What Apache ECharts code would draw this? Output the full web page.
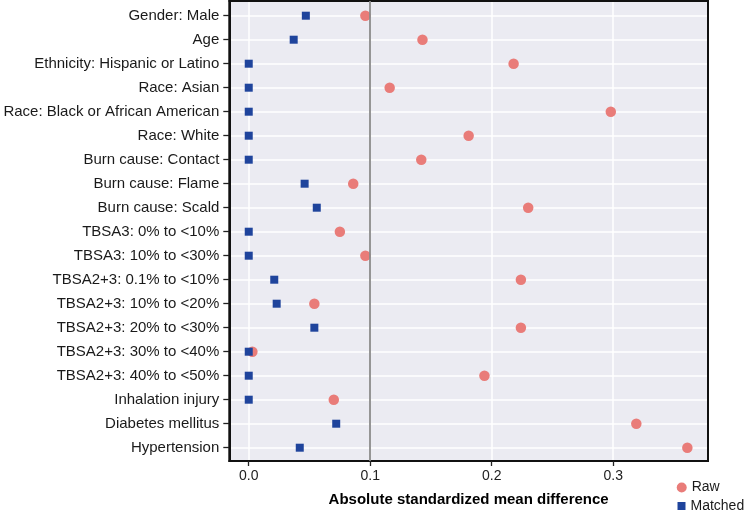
<!DOCTYPE html>
<html>
<head>
<meta charset="utf-8">
<script src="https://cdn.jsdelivr.net/npm/echarts@6/dist/echarts.min.js"></script>
<style>
html,body{margin:0;padding:0;background:#fff;}
#chart{width:750px;height:511px;}
</style>
</head>
<body>
<div id="chart"></div>
<script>
const categories = [
  "Gender: Male",
  "Age",
  "Ethnicity: Hispanic or Latino",
  "Race: Asian",
  "Race: Black or African American",
  "Race: White",
  "Burn cause: Contact",
  "Burn cause: Flame",
  "Burn cause: Scald",
  "TBSA3: 0% to <10%",
  "TBSA3: 10% to <30%",
  "TBSA2+3: 0.1% to <10%",
  "TBSA2+3: 10% to <20%",
  "TBSA2+3: 20% to <30%",
  "TBSA2+3: 30% to <40%",
  "TBSA2+3: 40% to <50%",
  "Inhalation injury",
  "Diabetes mellitus",
  "Hypertension"
];
const rawValues = [0.096, 0.143, 0.218, 0.116, 0.298, 0.181, 0.142, 0.086, 0.230, 0.075, 0.096, 0.224, 0.054, 0.224, 0.003, 0.194, 0.070, 0.319, 0.361];
const matchedValues = [0.047, 0.037, 0, 0, 0, 0, 0, 0.046, 0.056, 0, 0, 0.021, 0.023, 0.054, 0, 0, 0, 0.072, 0.042];
const threshold = 0.1;
const xTicks = [0, 0.1, 0.2, 0.3];

const font = "'Liberation Sans', Arial, sans-serif";
const xMin = -0.016, xMax = 0.378;
const borderLine = {show: true, onZero: false, lineStyle: {color: '#111111', width: 2}};
const chart = echarts.init(document.getElementById('chart'), null, {renderer: 'canvas'});
chart.setOption({
  animation: false,
  textStyle: {fontFamily: font},
  grid: [
    {
      left: 229.3, right: 42, top: 1, bottom: 50,
      show: true, backgroundColor: '#EBEBF2', borderColor: '#111111', borderWidth: 2,
      containLabel: false, outerBoundsMode: 'none'
    },
    {
      left: 229.3, right: 42, top: 3.7, bottom: 51.3,
      show: false, containLabel: false, outerBoundsMode: 'none'
    }
  ],
  xAxis: [
    {
      gridIndex: 0,
      type: 'value',
      position: 'bottom',
      min: xMin, max: xMax,
      splitNumber: 4,
      name: 'Absolute standardized mean difference',
      nameLocation: 'middle',
      nameGap: 31,
      nameTextStyle: {fontFamily: font, fontWeight: 'bold', fontSize: 15, color: '#000'},
      axisLine: borderLine,
      axisTick: {show: true, customValues: xTicks, length: 5, lineStyle: {color: '#222', width: 1.3}},
      axisLabel: {
        customValues: xTicks,
        fontFamily: font, fontSize: 14, color: '#222', margin: 8,
        formatter: function (v) { return Number(v).toFixed(1); }
      },
      splitLine: {show: true, lineStyle: {color: '#ffffff', width: 1.5}}
    },
    {
      gridIndex: 0,
      type: 'value',
      position: 'top',
      min: xMin, max: xMax,
      axisLine: borderLine,
      axisTick: {show: false}, axisLabel: {show: false}, splitLine: {show: false}
    },
    {
      gridIndex: 1,
      type: 'value',
      min: xMin, max: xMax,
      show: false
    }
  ],
  yAxis: [
    {
      gridIndex: 0,
      type: 'value', min: 0, max: 1, position: 'left',
      axisLine: borderLine, z: 5,
      axisTick: {show: false}, axisLabel: {show: false}, splitLine: {show: false}
    },
    {
      gridIndex: 0,
      type: 'value', min: 0, max: 1, position: 'right',
      axisLine: borderLine, z: 5,
      axisTick: {show: false}, axisLabel: {show: false}, splitLine: {show: false}
    },
    {
      gridIndex: 1,
      type: 'category',
      data: categories,
      inverse: true,
      axisLine: {show: false, onZero: false},
      axisTick: {show: true, alignWithLabel: true, length: 6, lineStyle: {color: '#222', width: 1.3}},
      axisLabel: {fontFamily: font, fontSize: 15, color: '#1a1a1a', margin: 10},
      splitLine: {show: true, alignWithLabel: true, lineStyle: {color: '#ffffff', width: 1.5}}
    }
  ],
  legend: [
    {
      orient: 'vertical', left: 676.7, top: 480.5, padding: 0,
      itemWidth: 10, itemHeight: 10, itemGap: 4,
      textStyle: {fontFamily: font, fontSize: 14, color: '#1a1a1a'},
      data: [{name: 'Raw', icon: 'circle'}]
    },
    {
      orient: 'vertical', left: 677.5, top: 499, padding: 0,
      itemWidth: 8, itemHeight: 8, itemGap: 4,
      textStyle: {fontFamily: font, fontSize: 14, color: '#1a1a1a'},
      data: [{name: 'Matched', icon: 'rect'}]
    }
  ],
  series: [
    {
      name: 'threshold', type: 'scatter', xAxisIndex: 0, yAxisIndex: 0,
      data: [],
      markLine: {
        silent: true, symbol: 'none', label: {show: false},
        lineStyle: {color: '#8a8a8a', width: 1.8, type: 'solid'},
        data: [{xAxis: threshold}]
      }
    },
    {
      name: 'Raw', type: 'scatter', xAxisIndex: 2, yAxisIndex: 2,
      symbol: 'circle', symbolSize: 10.5,
      itemStyle: {color: '#E97C79', opacity: 1},
      data: rawValues.map((v, i) => [v, categories[i]]),
      z: 3
    },
    {
      name: 'Matched', type: 'scatter', xAxisIndex: 2, yAxisIndex: 2,
      symbol: 'rect', symbolSize: 8,
      itemStyle: {color: '#1F449C', opacity: 1},
      data: matchedValues.map((v, i) => [v, categories[i]]),
      z: 4
    }
  ]
});
</script>
</body>
</html>
